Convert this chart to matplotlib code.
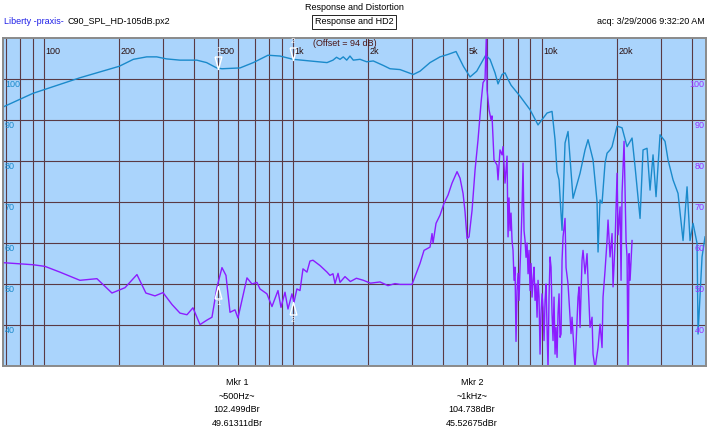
import numpy as np
import matplotlib.pyplot as plt
from matplotlib.ticker import NullLocator

plt.rcParams['font.family'] = ['Liberation Sans', 'DejaVu Sans']

# Response curve (Hz, dB)
resp_freq = [68.4, 90, 139, 200, 228, 258, 283, 310, 351, 410, 449, 493, 518, 612, 692,
             793, 886, 1000, 1169, 1369, 1447, 1495, 1544, 1591, 1643, 1693, 1746, 1858,
             1976, 2101, 2306, 2453, 2690, 3043, 3237, 3552, 3897, 4197, 4519, 4837, 5145,
             5473, 5948, 6190, 6483, 6666, 6918, 7112, 7313, 7519, 8172, 8966, 9654, 10018,
             10493, 10990, 11300, 11511, 11725, 12057, 12395, 12744, 13347, 14242, 14916,
             15336, 16062, 16669, 16823, 17140, 17458, 17951, 18286, 18803, 19153, 20062,
             21011, 22007, 23050, 23700, 24820, 25516, 26479, 27227, 27990, 28778, 29866,
             31278, 32156, 33682, 35277, 36955, 38349, 39431, 40538, 42071, 42461, 44055, 45290]
resp_db = [93.2, 96.5, 100.3, 103.1, 104.8, 105.4, 105.4, 104.9, 104.6, 104.6, 104.0, 102.7,
           102.5, 102.7, 104.0, 105.8, 105.6, 104.8, 104.4, 104.0, 104.6, 105.3, 104.8, 105.4,
           104.6, 105.6, 104.6, 104.8, 104.2, 104.4, 103.3, 102.5, 102.3, 101.1, 101.9, 104.0,
           105.4, 106.0, 106.7, 103.1, 100.5, 101.9, 105.8, 104.8, 101.5, 98.8, 101.1, 101.5,
           99.9, 98.5, 95.8, 92.5, 88.8, 90.1, 91.7, 92.1, 85.2, 77.4, 75.4, 63.1, 84.4, 87.2,
           70.9, 77.0, 82.7, 85.2, 80.3, 70.1, 57.8, 70.5, 69.7, 79.5, 81.9, 82.7, 83.5, 88.5,
           88.1, 83.5, 85.6, 78.6, 66.0, 82.7, 83.1, 72.9, 81.5, 71.3, 86.4, 84.8, 80.3, 75.4,
           72.1, 60.6, 73.7, 60.6, 64.8, 59.9, 37.8, 56.6, 61.5]

# HD2 curve (Hz, dB)
hd2_freq = [68.4, 90, 100.6, 115.5, 139, 162.7, 187, 211, 235.7, 256, 278.5, 300, 326, 351,
            374.5, 395.8, 422.5, 450.6, 472, 494.3, 517.7, 537.3, 557.7, 584, 600.3, 652.6,
            683.5, 715.6, 736, 785, 822.5, 869.5, 894, 927.8, 953.9, 989.7, 1008, 1036, 1066,
            1096, 1137, 1169, 1202, 1283, 1369, 1407, 1447, 1474, 1516, 1544, 1617, 1699, 1797,
            1917, 2046, 2236, 2407, 2568, 2690, 3007, 3237, 3360, 3552, 3619, 3653, 3755, 3897,
            4045, 4197, 4354, 4562, 4690, 4822, 4912, 5004, 5098, 5242, 5389, 5540, 5696, 5802,
            5910, 5993, 6021, 6133, 6248, 6306, 6423, 6605, 6666, 6790, 6918, 6982, 7112, 7246,
            7313, 7381, 7449, 7519, 7589, 7659, 7730, 7802, 7874, 7948, 8022, 8096, 8172, 8248,
            8326, 8403, 8481, 8560, 8639, 8721, 8802, 8883, 8966, 9050, 9134, 9219, 9304, 9390,
            9479, 9567, 9654, 9744, 9835, 9926, 10018, 10111, 10205, 10301, 10397, 10493, 10590,
            10688, 10789, 10889, 10990, 11092, 11194, 11300, 11405, 11511, 11617, 11725, 11836,
            11946, 12057, 12169, 12395, 12512, 12744, 13103, 13224, 13597, 13979, 14112, 14242,
            14507, 14641, 14916, 15195, 15336, 15624, 15915, 16062, 16364, 16823, 17140, 17458,
            17620, 17951, 18286, 18455, 18803, 19153, 19330, 19695, 20062, 20248, 20628, 20819,
            21011, 21406, 21805, 22007, 22210, 22421, 22629, 23050]
hd2_db = [55.2, 54.7, 54.3, 52.9, 50.9, 51.3, 47.8, 49.1, 52.3, 47.8, 47.1, 47.9, 45.0, 42.9,
          42.5, 44.2, 40.1, 41.2, 41.9, 49.2, 54.0, 52.1, 43.1, 43.7, 41.7, 51.5, 50.0, 50.4,
          48.8, 47.6, 44.5, 48.4, 44.3, 48.0, 43.9, 47.6, 45.5, 48.8, 48.4, 53.7, 52.9, 55.6,
          55.8, 54.5, 52.9, 52.1, 52.5, 50.1, 52.6, 50.4, 51.8, 50.6, 51.4, 50.9, 50.2, 50.5,
          49.6, 50.1, 49.9, 49.9, 55.0, 58.2, 59.0, 62.3, 60.0, 64.8, 66.8, 69.7, 71.7, 74.6,
          77.4, 75.8, 72.1, 67.6, 61.1, 61.5, 68.0, 77.8, 85.2, 94.2, 99.1, 99.9, 112.0, 97.4,
          92.5, 90.1, 91.0, 80.3, 79.0, 75.4, 82.7, 81.5, 83.5, 74.6, 81.2, 61.5, 71.0, 63.0,
          67.3, 60.6, 58.2, 50.9, 54.1, 36.0, 48.4, 52.6, 46.0, 54.1, 60.6, 68.8, 79.5, 63.0,
          60.6, 56.5, 60.0, 52.5, 58.2, 48.4, 55.0, 46.8, 50.9, 54.1, 46.0, 50.0, 41.9, 50.9,
          46.8, 32.9, 42.8, 47.6, 44.3, 36.2, 46.0, 50.0, 39.4, 29.0, 46.8, 56.6, 54.1, 42.7,
          36.2, 46.8, 32.9, 39.4, 32.1, 42.8, 47.6, 37.0, 37.8, 55.8, 61.5, 66.0, 54.0, 50.0,
          37.9, 41.9, 29.5, 46.8, 49.3, 39.4, 55.8, 58.2, 52.5, 57.4, 50.9, 39.4, 41.9, 32.9,
          29.5, 34.5, 40.2, 34.5, 46.8, 53.3, 60.6, 65.6, 56.6, 62.3, 49.3, 60.0, 77.0, 62.0,
          68.8, 50.9, 72.1, 84.8, 60.6, 56.6, 29.5, 57.4, 50.9, 60.6]

grid_freq = [70, 80, 90, 100, 200, 300, 400, 500, 600, 700, 800, 900, 1000, 2000, 3000,
             4000, 5000, 6000, 7000, 8000, 9000, 10000, 20000, 30000, 40000]
x_label_freq = [100, 200, 500, 1000, 2000, 5000, 10000, 20000]
x_labels = ['100', '200', '500', '1k', '2k', '5k', '10k', '20k']
y_ticks = [40, 50, 60, 70, 80, 90, 100]

mkr_names = ['Mkr 1', 'Mkr 2']
mkr_freq = [500, 1000]
mkr_hz = ['~500Hz~', '~1kHz~']
mkr_resp = [102.499, 104.738]
mkr_hd2 = [49.61311, 45.52675]

W, H = 709, 440
fig = plt.figure(figsize=(W / 100, H / 100), dpi=100)
fig.patch.set_facecolor('white')
ax = fig.add_axes([3.3 / W, 1 - 366 / H, (706 - 3.3) / W, (366 - 38) / H])
ax.set_facecolor('#aad4fc')
ax.set_xscale('log')
ax.set_xlim(68.4, 45700)
ax.set_ylim(30, 110)
ax.set_xticks(grid_freq)
ax.set_xticklabels([])
ax.set_yticks(y_ticks)
ax.set_yticklabels([])
ax.xaxis.set_minor_locator(NullLocator())
ax.tick_params(length=0)
ax.grid(True, color='#5a3a44', lw=0.8)
for s in ax.spines.values():
    s.set_color('#8a8a8a')
    s.set_linewidth(1.4)

ax.plot(resp_freq, resp_db, color='#1a8acb', lw=1.0)
ax.plot(hd2_freq, hd2_db, color='#8c1cff', lw=1.0)

# tick labels drawn inside the plot
for f, lab in zip(x_label_freq, x_labels):
    ax.annotate(lab, xy=(f, 1), xycoords=('data', 'axes fraction'), xytext=(1, -9.5),
                textcoords='offset points', ha='left', va='center', fontsize=6.5, color='#2a1010')
for v in y_ticks:
    ax.annotate(str(v), xy=(0, v), xycoords=('axes fraction', 'data'), xytext=(1.2, -4),
                textcoords='offset points', ha='left', va='center', fontsize=6.5, color='#1a8acb')
    ax.annotate(str(v), xy=(1, v), xycoords=('axes fraction', 'data'), xytext=(-1.2, -4),
                textcoords='offset points', ha='right', va='center', fontsize=6.5, color='#9a30ff')

fig.text(345 / W, 1 - 43 / H, '(Offset = 94 dB)', ha='center', va='center',
         fontsize=6.5, color='#4a1414')

# markers
down_tri = [(-0.27, 1), (0.27, 1), (0, 0), (-0.27, 1)]
up_tri = [(-0.27, -1), (0.27, -1), (0, 0), (-0.27, -1)]
for i, f in enumerate(mkr_freq):
    ax.plot(f, mkr_resp[i], marker=down_tri, ms=18, mfc='none', mec='white', mew=1.0)
    ax.plot(f, mkr_hd2[i], marker=up_tri, ms=18, mfc='none', mec='white', mew=1.0)
    ax.annotate(str(i + 1), xy=(f, mkr_resp[i]), xytext=(0, 13), textcoords='offset points',
                ha='center', va='center', fontsize=5.5, color='white')
    ax.annotate(str(i + 1), xy=(f, mkr_hd2[i]), xytext=(0, -13), textcoords='offset points',
                ha='center', va='center', fontsize=5.5, color='white')

# header texts
fig.text(354 / W, 1 - 8 / H, 'Response and Distortion', ha='center', va='center',
         fontsize=6.5, color='black')
fig.text(354 / W, 1 - 22 / H, 'Response and HD2', ha='center', va='center', fontsize=6.5,
         color='black', bbox=dict(boxstyle='square,pad=0.25', fc='white', ec='black', lw=0.6))
fig.text(4 / W, 1 - 22 / H, 'Liberty -praxis-', ha='left', va='center', fontsize=6.5,
         color='#2020e8')
fig.text(67 / W, 1 - 22 / H, 'C90_SPL_HD-105dB.px2', ha='left', va='center', fontsize=6.5,
         color='black')
fig.text(705 / W, 1 - 22 / H, 'acq: 3/29/2006 9:32:20 AM', ha='right', va='center',
         fontsize=6.5, color='black')

# marker readouts
mkr_x = [237, 472]
for i in range(2):
    lines = [mkr_names[i], mkr_hz[i], '%.3fdBr' % mkr_resp[i], '%.5fdBr' % mkr_hd2[i]]
    for j, t in enumerate(lines):
        fig.text(mkr_x[i] / W, 1 - (382.5 + 13.6 * j) / H, t, ha='center', va='center',
                 fontsize=6.5, color='black')

fig.savefig('out.png', dpi=100)
